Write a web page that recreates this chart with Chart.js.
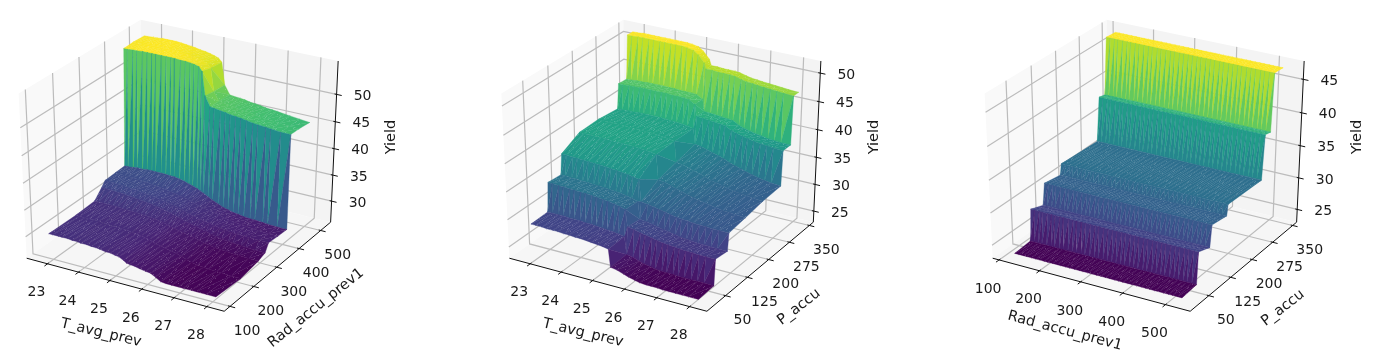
<!DOCTYPE html>
<html>
<head>
<meta charset="utf-8">
<script src="https://cdn.jsdelivr.net/npm/chart.js@4"></script>
<style>
  html, body { margin: 0; background: #fff; }
  #wrap { position: relative; width: 1388px; height: 362px; overflow: hidden; }
  #wrap div { position: absolute; top: 0; height: 362px; }
  canvas { filter: blur(0.35px); }
</style>
</head>
<body>
<div id="wrap">
  <div style="left:0;width:463px"><canvas id="c1"></canvas></div>
  <div style="left:463px;width:463px"><canvas id="c2"></canvas></div>
  <div style="left:926px;width:462px"><canvas id="c3"></canvas></div>
</div>
<script>
// values
const tAvgA = [23.0,23.12,23.3,23.42,23.6,23.75,23.9,24.02,24.2,24.35,24.5,24.62,24.8,24.95,25.1,25.22,25.36,25.46,25.56,25.72,25.85,26.05,26.2,26.35,26.52,26.68,26.85,27.05,27.2,27.45,27.6,27.9,28.2];
const radA = [85,189,264,293,307,349,388,392,429,476];
const yieldA = [
  [31.3,31.3,31.3,31.3,31.3,31.2,31.2,31.1,31.1,31.0,31.0,30.9,30.7,30.7,30.5,30.4,30.0,29.6,29.5,29.4,29.2,29.0,28.9,28.4,27.8,27.7,27.7,27.7,27.7,27.7,27.7,27.7,27.7],
  [31.2,31.2,31.2,31.2,31.2,31.2,31.1,31.1,31.0,31.0,30.9,30.9,30.7,30.6,30.5,30.3,30.2,29.9,29.7,29.5,29.3,29.1,28.9,28.6,28.2,27.9,27.7,27.6,27.5,27.4,27.4,27.3,27.3],
  [31.4,31.4,31.4,31.4,31.4,31.4,31.3,31.3,31.2,31.2,31.1,31.1,31.0,30.9,30.7,30.6,30.4,30.2,30.0,29.8,29.6,29.4,29.2,29.0,28.7,28.5,28.3,28.2,28.1,28.0,28.0,27.9,27.9],
  [33.0,33.0,33.0,32.9,32.9,32.8,32.7,32.7,32.5,32.4,32.3,32.2,32.0,31.8,31.6,31.4,31.2,31.0,30.8,30.5,30.3,30.1,29.8,29.6,29.3,29.1,28.9,28.8,28.7,28.6,28.5,28.4,28.4],
  [33.9,33.9,33.9,33.8,33.8,33.7,33.6,33.6,33.4,33.3,33.2,33.1,32.9,32.7,32.5,32.4,32.2,32.0,31.8,31.5,31.3,31.1,30.9,30.7,30.5,30.3,30.2,30.0,30.0,29.9,29.9,29.8,29.8],
  [34.0,34.0,33.9,33.9,33.9,33.8,33.7,33.7,33.5,33.4,33.3,33.2,33.0,32.8,32.6,32.5,32.3,32.1,31.9,31.6,31.4,31.2,31.0,30.8,30.5,30.3,30.2,30.0,29.9,29.8,29.7,29.6,29.6],
  [34.1,34.1,34.2,34.3,34.3,34.4,34.4,34.4,34.4,34.4,34.3,34.3,34.1,33.9,33.6,33.4,33.1,32.8,32.5,32.0,31.6,31.1,30.7,30.5,30.2,30.1,29.9,29.8,29.8,29.7,29.6,29.5,29.5],
  [55.8,55.8,55.9,55.9,56.0,56.0,56.0,56.0,56.0,56.0,56.0,56.0,55.9,55.9,55.8,55.7,55.5,54.8,50.5,48.7,48.6,48.4,48.3,48.1,48.0,47.9,47.7,47.5,47.4,47.3,47.2,47.0,47.0],
  [55.9,55.9,56.0,56.0,56.1,56.1,56.1,56.1,56.0,56.0,55.9,55.9,55.7,55.6,55.4,55.2,54.9,54.3,50.2,48.6,48.5,48.3,48.2,48.0,47.9,47.8,47.6,47.4,47.3,47.2,47.1,47.0,46.9],
  [55.8,55.8,55.9,55.9,56.0,56.0,56.0,56.0,55.9,55.8,55.7,55.6,55.4,55.3,55.1,54.9,54.6,54.0,50.0,48.4,48.3,48.2,48.1,47.9,47.8,47.7,47.5,47.4,47.3,47.1,47.0,46.8,46.6]
];

const tAvgB = [23.0,23.15,23.35,23.5,23.7,23.85,24.05,24.2,24.4,24.55,24.75,24.9,25.1,25.25,25.44,25.5,25.7,25.9,26.05,26.25,26.4,26.6,26.75,26.95,27.1,27.3,27.5,27.7,27.9,28.2];
const pAccuB = [-5,46,50,90,94,150,210,274,278,305,309,327];
const yieldB = [
  [29.9,29.9,29.9,29.8,29.8,29.8,29.7,29.7,29.6,29.6,29.5,29.4,29.3,29.2,29.0,25.8,25.6,25.2,24.9,24.6,24.4,24.3,24.3,24.3,24.2,24.2,24.2,24.2,24.2,24.2],
  [30.0,30.0,30.0,30.0,29.9,29.9,29.9,29.8,29.8,29.7,29.6,29.5,29.4,29.3,29.1,25.9,25.7,25.3,25.0,24.8,24.6,24.5,24.5,24.5,24.4,24.4,24.4,24.4,24.4,24.4],
  [35.2,35.2,35.1,35.1,35.0,35.0,34.9,34.9,34.8,34.7,34.6,34.5,34.3,34.1,33.8,30.8,30.6,30.3,30.1,29.9,29.7,29.5,29.4,29.3,29.2,29.1,29.1,29.0,29.0,29.0],
  [35.0,35.0,34.9,34.9,34.8,34.8,34.7,34.7,34.6,34.5,34.4,34.3,34.1,33.9,33.6,30.5,30.3,30.1,29.9,29.7,29.5,29.3,29.1,29.0,28.9,28.8,28.8,28.7,28.7,28.7],
  [38.6,38.6,38.5,38.5,38.4,38.4,38.3,38.3,38.2,38.1,38.0,37.9,37.8,37.6,37.4,33.5,33.3,33.1,32.9,32.7,32.5,32.3,32.2,32.1,32.0,31.9,31.9,31.8,31.8,31.8],
  [40.3,40.3,40.3,40.3,40.3,40.3,40.2,40.2,40.2,40.1,40.1,40.0,39.9,39.8,39.6,35.2,35.0,34.7,34.4,34.1,33.8,33.5,33.3,33.1,32.9,32.7,32.5,32.4,32.3,32.2],
  [40.4,40.4,40.4,40.4,40.4,40.4,40.3,40.3,40.3,40.2,40.2,40.1,40.0,39.9,39.7,36.0,35.8,35.5,35.2,34.9,34.6,34.2,34.0,33.8,33.5,33.3,33.1,33.0,32.8,32.7],
  [40.0,40.0,40.1,40.1,40.2,40.2,40.2,40.2,40.2,40.1,40.1,40.0,39.9,39.8,39.6,36.8,36.6,36.3,36.0,35.7,35.4,34.9,34.6,34.3,34.0,33.7,33.4,33.2,33.0,32.9],
  [44.4,44.4,44.5,44.5,44.6,44.6,44.6,44.6,44.6,44.6,44.5,44.5,44.5,44.4,43.8,41.7,41.6,41.5,41.4,41.3,41.2,40.6,40.3,40.0,39.8,39.6,39.4,39.3,39.2,39.1],
  [44.3,44.3,44.4,44.4,44.5,44.5,44.5,44.5,44.5,44.5,44.4,44.4,44.4,44.3,43.7,41.6,41.5,41.4,41.3,41.2,41.1,40.5,40.2,39.9,39.7,39.5,39.3,39.2,39.1,39.1],
  [52.0,52.0,52.1,52.1,52.1,52.1,52.1,52.1,52.1,52.1,52.1,52.0,51.8,51.2,50.0,49.0,49.0,48.9,48.9,48.9,48.8,48.5,48.3,48.2,48.1,48.0,47.9,47.8,47.7,47.6],
  [52.0,52.0,52.1,52.1,52.1,52.1,52.1,52.1,52.1,52.1,52.1,52.0,51.8,51.2,50.0,49.0,49.0,48.9,48.9,48.9,48.8,48.5,48.3,48.2,48.1,48.0,47.9,47.8,47.7,47.6]
];

const radC = [134,144,155,163,175,186,194,206,215,227,238,247,259,268,280,291,300,312,322,333,343,354,363,375,385,395,407,416,428,438,449,458,470,480,490,502,511,522,533];
const pAccuC = [-5,43,48,86,92,142,146,263,271,290,297,327];
const yieldC = [24.3,24.5,29.3,28.6,31.8,31.4,33.0,32.7,39.3,39.1,47.6,47.5];

const tAvgTicks = [23,24,25,26,27,28];
const radTicks = [100,200,300,400,500];
const pAccuTicks = [50,125,200,275,350];
const yieldTicksA = [30,35,40,45,50];
const yieldTicksB = [25,30,35,40,45,50];
const yieldTicksC = [25,30,35,40,45];

const viridis = ['#440154','#482475','#414487','#355f8d','#2a788e','#21918c','#22a884','#44bf70','#7ad151','#bddf26','#fde725'];

function viridisAt(t) {
  const p = Math.min(Math.max(t, 0), 1) * (viridis.length - 1);
  const i = Math.min(Math.floor(p), viridis.length - 2);
  const c = [viridis[i], viridis[i + 1]].map(h => [1, 3, 5].map(k => parseInt(h.substr(k, 2), 16)));
  const m = [0, 1, 2].map(k => Math.round(c[0][k] + (c[1][k] - c[0][k]) * (p - i)));
  return `rgb(${m[0]},${m[1]},${m[2]})`;
}

// flat facets of the surface carry the light specks the reference shows between its triangles
const speckles = {};
function speckleFill(color) {
  if (speckles[color]) return speckles[color];
  const tile = document.createElement('canvas');
  tile.width = tile.height = 53;
  const g = tile.getContext('2d');
  g.fillStyle = color;
  g.fillRect(0, 0, 53, 53);
  g.fillStyle = 'rgba(255,255,255,0.2)';
  for (let k = 0; k < 110; k++) g.fillRect((k * 23) % 53, (k * 37 + (k % 7) * 11) % 53, 1, 1);
  speckles[color] = g.createPattern(tile, 'repeat');
  return speckles[color];
}

// mplot3d view: elev 30, azim -60, dist 10, on a unit cube
const COS30 = Math.cos(Math.PI / 6);
function project(a, b, c) {
  const u = COS30 * a + 0.5 * b;
  const v = -0.25 * a + 0.433 * b + COS30 * c;
  const n = 0.433 * a - 0.75 * b + 0.5 * c;
  const f = 1 / (1 - n / 10);
  return { x: u * f, y: v * f };
}

function lineSet(points, color, width) {
  return { data: points, borderColor: color, borderWidth: width, backgroundColor: 'transparent', showLine: true, pointRadius: 0, fill: false, tension: 0 };
}
function polySet(points, color, edge, fillStyle) {
  return { data: points.concat(points[0]), borderColor: color, borderWidth: edge, backgroundColor: fillStyle || color, showLine: true, pointRadius: 0, fill: 'shape', tension: 0 };
}

const textPlugin = {
  id: 'texts3d',
  afterDraw(chart, args, opts) {
    const ctx = chart.ctx;
    const sx = chart.scales.x, sy = chart.scales.y;
    ctx.save();
    ctx.fillStyle = '#1a1a1a';
    ctx.textAlign = 'center';
    ctx.textBaseline = 'middle';
    ctx.font = '14px "DejaVu Sans"';
    opts.tickTexts.forEach(t => {
      ctx.fillText(t.text, sx.getPixelForValue(t.x) + t.dx, sy.getPixelForValue(t.y) + t.dy);
    });
    ctx.font = '14.5px "DejaVu Sans"';
    opts.labels.forEach(l => {
      ctx.save();
      ctx.translate(l.x, l.y);
      ctx.rotate(l.rot * Math.PI / 180);
      ctx.fillText(l.text, 0, 0);
      ctx.restore();
    });
    ctx.restore();
  }
};

function drawPanel(id, cfg) {
  const WIDTH = cfg.width, HEIGHT = 362;
  const na = x => (x - cfg.xLim[0]) / (cfg.xLim[1] - cfg.xLim[0]) - 0.5;
  const nb = y => (y - cfg.yLim[0]) / (cfg.yLim[1] - cfg.yLim[0]) - 0.5;
  const nc = z => (z - cfg.zLim[0]) / (cfg.zLim[1] - cfg.zLim[0]) - 0.5;
  const back = [];

  // panes
  back.push(polySet([project(-.5,-.5,-.5), project(-.5,.5,-.5), project(-.5,.5,.5), project(-.5,-.5,.5)], '#f9f9f9', 0));
  back.push(polySet([project(-.5,.5,-.5), project(.5,.5,-.5), project(.5,.5,.5), project(-.5,.5,.5)], '#f4f4f4', 0));
  back.push(polySet([project(-.5,-.5,-.5), project(.5,-.5,-.5), project(.5,.5,-.5), project(-.5,.5,-.5)], '#f6f6f6', 0));

  // grid
  const GRID = '#bcbcbc';
  cfg.xTicks.forEach(t => back.push(lineSet([project(na(t),-.5,-.5), project(na(t),.5,-.5), project(na(t),.5,.5)], GRID, 1.2)));
  cfg.yTicks.forEach(t => back.push(lineSet([project(.5,nb(t),-.5), project(-.5,nb(t),-.5), project(-.5,nb(t),.5)], GRID, 1.2)));
  cfg.zTicks.forEach(t => back.push(lineSet([project(-.5,-.5,nc(t)), project(-.5,.5,nc(t)), project(.5,.5,nc(t))], GRID, 1.2)));

  // axes and tick marks
  const AXIS = '#111';
  back.push(lineSet([project(-.5,-.5,-.5), project(.5,-.5,-.5), project(.5,.5,-.5), project(.5,.5,.5)], AXIS, 1));
  cfg.xTicks.forEach(t => back.push(lineSet([project(na(t),-.525,-.5), project(na(t),-.49,-.5)], AXIS, 1)));
  cfg.yTicks.forEach(t => back.push(lineSet([project(.525,nb(t),-.5), project(.49,nb(t),-.5)], AXIS, 1)));
  cfg.zTicks.forEach(t => back.push(lineSet([project(.49,.5,nc(t)), project(.525,.5,nc(t))], AXIS, 1)));

  // surface, far rows and far columns first
  const flat = cfg.zs.flat();
  const zLo = Math.min(...flat), zHi = Math.max(...flat);
  const surf = [];
  const P = (i, j) => project(na(cfg.xs[j]), nb(cfg.ys[i]), nc(cfg.zs[i][j]));
  const facet = (pts, v) => {
    const color = viridisAt((v.reduce((s, z) => s + z, 0) / v.length - zLo) / (zHi - zLo));
    const isFlat = Math.max(...v) - Math.min(...v) < 2.5;
    return polySet(pts, color, 0.35, isFlat ? speckleFill(color) : null);
  };
  const z = cfg.zs;
  for (let i = cfg.ys.length - 2; i >= 0; i--) {
    for (let j = 0; j < cfg.xs.length - 1; j++) {
      surf.push(facet([P(i + 1, j), P(i + 1, j + 1), P(i, j)], [z[i + 1][j], z[i + 1][j + 1], z[i][j]]));
      surf.push(facet([P(i + 1, j + 1), P(i, j + 1), P(i, j)], [z[i + 1][j + 1], z[i][j + 1], z[i][j]]));
    }
  }

  const drawOrder = back.concat(surf);
  const tickTexts = [];
  cfg.xTicks.forEach(t => { const p = project(na(t), -.5, -.5); tickTexts.push({ text: String(t), x: p.x, y: p.y, dx: cfg.xTextOff[0], dy: cfg.xTextOff[1] }); });
  cfg.yTicks.forEach(t => { const p = project(.5, nb(t), -.5); tickTexts.push({ text: String(t), x: p.x, y: p.y, dx: cfg.yTextOff[0], dy: cfg.yTextOff[1] }); });
  cfg.zTicks.forEach(t => { const p = project(.5, .5, nc(t)); tickTexts.push({ text: String(t), x: p.x, y: p.y, dx: cfg.zTextOff[0], dy: cfg.zTextOff[1] }); });

  const canvas = document.getElementById(id);
  new Chart(canvas, {
    type: 'scatter',
    data: { datasets: drawOrder.reverse() },
    options: {
      responsive: true,
      maintainAspectRatio: false,
      animation: false,
      parsing: false,
      normalized: true,
      layout: { padding: 0 },
      scales: {
        x: { display: false, min: -cfg.cx / cfg.sx, max: (WIDTH - cfg.cx) / cfg.sx },
        y: { display: false, min: -(HEIGHT - cfg.cy) / cfg.sy, max: cfg.cy / cfg.sy }
      },
      plugins: {
        legend: { display: false },
        tooltip: { enabled: false },
        texts3d: { tickTexts, labels: cfg.labels }
      }
    },
    plugins: [textPlugin]
  });
}

const T_LIM = [22.32, 28.52];

drawPanel('c1', {
  width: 463, cx: 181, cy: 160.5, sx: 228, sy: 188,
  xs: tAvgA, ys: radA, zs: yieldA,
  xLim: T_LIM, yLim: [76, 547], zLim: [25.9, 56],
  xTicks: tAvgTicks, yTicks: radTicks, zTicks: yieldTicksA,
  xTextOff: [-11, 29], yTextOff: [17, 25], zTextOff: [26, 2],
  labels: [
    { text: 'T_avg_prev', x: 101, y: 333, rot: 13.5 },
    { text: 'Rad_accu_prev1', x: 316, y: 308, rot: -38.5 },
    { text: 'Yield', x: 391, y: 137, rot: -90 }
  ]
});

drawPanel('c2', {
  width: 463, cx: 200.7, cy: 160.5, sx: 228, sy: 188,
  xs: tAvgB, ys: pAccuB, zs: yieldB,
  xLim: T_LIM, yLim: [-12, 365], zLim: [22.9, 52.1],
  xTicks: tAvgTicks, yTicks: pAccuTicks, zTicks: yieldTicksB,
  xTextOff: [-11, 29], yTextOff: [17, 25], zTextOff: [26, 2],
  labels: [
    { text: 'T_avg_prev', x: 120, y: 333, rot: 13.5 },
    { text: 'P_accu', x: 336, y: 307, rot: -37.5 },
    { text: 'Yield', x: 411, y: 137, rot: -90 }
  ]
});

const yieldCTable = yieldC.map(level => radC.map(() => level));

drawPanel('c3', {
  width: 462, cx: 221, cy: 160.5, sx: 228, sy: 188,
  xs: radC, ys: pAccuC, zs: yieldCTable,
  xLim: [84, 557], yLim: [-12, 365], zLim: [22.95, 47.7],
  xTicks: radTicks, yTicks: pAccuTicks, zTicks: yieldTicksC,
  xTextOff: [-11, 29], yTextOff: [17, 25], zTextOff: [26, 2],
  labels: [
    { text: 'Rad_accu_prev1', x: 139, y: 331, rot: 15 },
    { text: 'P_accu', x: 357, y: 308, rot: -37.5 },
    { text: 'Yield', x: 431, y: 137, rot: -90 }
  ]
});
</script>
</body>
</html>
